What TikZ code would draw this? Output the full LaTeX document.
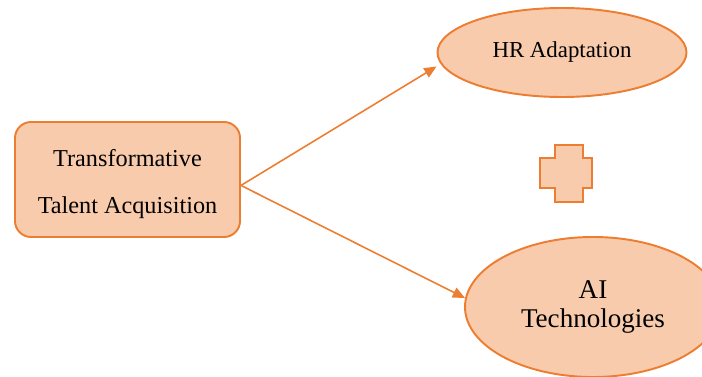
\documentclass[tikz,border=0pt]{standalone}
\usepackage{fontspec}
\setmainfont{Liberation Serif}
\newfontfamily\diagfont{Liberation Serif}
\usepackage{tikz}
\usetikzlibrary{arrows.meta,calc,positioning,shapes.geometric}
\definecolor{FrameOrange}{RGB}{237,125,49}
\definecolor{SoftPeach}{RGB}{248,203,173}

\begin{document}
\begin{tikzpicture}[>={Triangle[length=7pt,width=6pt]},
    every node/.style={text=black},
    box/.style={draw=FrameOrange, fill=SoftPeach, line width=1.1pt, rounded corners=0.32cm,
        minimum width=4.5cm, minimum height=2.3cm,
        font=\diagfont\fontsize{13.8}{26.7}\selectfont},
    oval/.style={ellipse, draw=FrameOrange, fill=SoftPeach, line width=1.1pt,
        inner sep=0pt, align=center},
    link/.style={->, draw=FrameOrange, line width=0.9pt}]
\useasboundingbox (0,0) rectangle (14.04,-7.54);
\clip (0,0) rectangle (14.04,-7.54);
\node[box] (tta) at (2.55,-3.59)
    {\raisebox{-0.15cm}[0pt][0pt]{\begin{tabular}{@{}c@{}}Transformative\\Talent Acquisition\end{tabular}}};
\node[oval, minimum width=4.98cm, minimum height=1.78cm,
    font=\diagfont\fontsize{13}{16}\selectfont] (hr) at (11.24,-1.05) {HR Adaptation};
\node[oval, minimum width=5.12cm, minimum height=2.8cm,
    font=\diagfont\fontsize{15.4}{16.8}\selectfont] (ai) at (11.86,-6.14) {AI\\Technologies};
% plus sign between the two ovals
\draw[draw=FrameOrange, fill=SoftPeach, line width=1.1pt]
    (11.1,-2.9) -- (11.66,-2.9) -- (11.66,-3.16) -- (11.84,-3.16) -- (11.84,-3.76)
    -- (11.66,-3.76) -- (11.66,-4.04) -- (11.1,-4.04) -- (11.1,-3.76) -- (10.8,-3.76)
    -- (10.8,-3.16) -- (11.1,-3.16) -- cycle;
\draw[link] (tta.-3) -- ([yshift=-0.28cm]hr.west);
\draw[link] (tta.-3) -- (ai.176);
\end{tikzpicture}
\end{document}
